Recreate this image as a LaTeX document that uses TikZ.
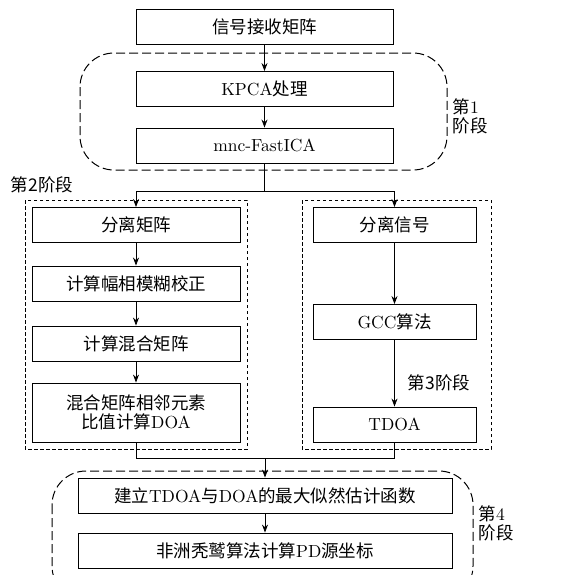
\documentclass[tikz,border=0pt]{standalone}
\usepackage{fontspec}
\usetikzlibrary{arrows.meta}
\setmainfont{lmroman10-regular}[Extension=.otf]
\newfontfamily\cjk{Noto Sans CJK SC}

\tikzset{
  blk/.style={draw,line width=0.9pt,minimum height=35pt,inner sep=1pt,align=center},
  stage/.style={draw,dash pattern=on 3.5pt off 2.5pt,line width=0.9pt},
  phase/.style={draw,dash pattern=on 9pt off 4pt,line width=1pt,rounded corners=34pt},
  lbl/.style={align=left,inner sep=0pt},
}

\begin{document}
\begin{tikzpicture}[x=1pt,y=-1pt,>={Stealth[length=8pt,width=6pt]},line width=0.8pt,
  font=\fontsize{17.5}{19}\selectfont]
		\useasboundingbox (0,0) rectangle (583,574);
		% dashed frames round the four stages
		\draw [phase] (80,53) rectangle (447,170);
		\draw [stage] (25,200) rectangle (247,449);
		\draw [stage] (302,200) rectangle (491,449);
		\draw [phase] (52,471) rectangle (473,600);
		% top column
		\node [blk,minimum width=257pt] (rx) at (264.5,26.5) {\cjk 信号接收矩阵};
		\node [blk,minimum width=257pt] (kpca) at (264.5,89) {KPCA{\cjk 处理}};
		\node [blk,minimum width=257pt] (ica) at (264.5,145.5) {mnc-FastICA};
		% left branch
		\node [blk,minimum width=208pt] (sepm) at (136,225) {\cjk 分离矩阵};
		\node [blk,minimum width=208pt] (corr) at (136,283.5) {\cjk 计算幅相模糊校正};
		\node [blk,minimum width=208pt] (mix) at (136,343.5) {\cjk 计算混合矩阵};
		\node [blk,minimum width=208pt,minimum height=59pt] (doa) at (136,412.5)
			{{\cjk 混合矩阵相邻元素}\\{\cjk 比值计算}DOA};
		% right branch
		\node [blk,minimum width=163pt] (seps) at (394.5,225) {\cjk 分离信号};
		\node [blk,minimum width=163pt] (gcc) at (394.5,322) {GCC{\cjk 算法}};
		\node [blk,minimum width=163pt] (tdoa) at (394.5,424.5) {TDOA};
		% bottom column
		\node [blk,minimum width=374pt] (ml) at (265,495.5) {{\cjk 建立}TDOA{\cjk 与}DOA{\cjk 的最大似然估计函数}};
		\node [blk,minimum width=374pt] (avoa) at (265,550.5) {{\cjk 非洲秃鹫算法计算}PD{\cjk 源坐标}};
		% stage labels
		\node [lbl] (s1) at (470,116) {{\cjk 第}1\\{\cjk 阶段}};
		\node [lbl] (s2) at (42,185) {\cjk 第2阶段};
		\node [lbl] (s3) at (439,383) {\cjk 第3阶段};
		\node [lbl] (s4) at (496,523) {{\cjk 第}4\\{\cjk 阶段}};
		% connectors
		\coordinate (fork) at (264.5,191);
		\coordinate (join) at (265,458);
		\draw [->] (rx) -- (kpca);
		\draw [->] (kpca) -- (ica);
		\draw (ica) -- (fork);
		\draw [->] (fork) -| (sepm);
		\draw [->] (fork) -| (seps);
		\draw [->] (sepm) -- (corr);
		\draw [->] (corr) -- (mix);
		\draw [->] (mix) -- (doa);
		\draw [->] (seps) -- (gcc);
		\draw [->] (gcc) -- (tdoa);
		\draw (doa) |- (join);
		\draw (tdoa) |- (join);
		\draw [->] (join) -- (ml);
		\draw [->] (ml) -- (avoa);
\end{tikzpicture}
\end{document}
